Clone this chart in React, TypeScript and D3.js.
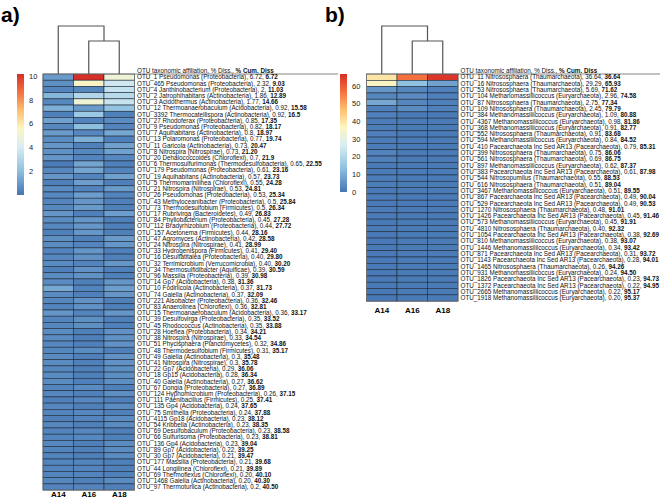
import * as d3 from 'd3';
import React from 'react';

// panel a: bacteria
const aOtu = ['OTU_1', 'OTU_465', 'OTU_4', 'OTU_2', 'OTU_3', 'OTU_12', 'OTU_3392', 'OTU_27', 'OTU_9', 'OTU_7',
  'OTU_13', 'OTU_11', 'OTU_8', 'OTU_20', 'OTU_6', 'OTU_179', 'OTU_19', 'OTU_5', 'OTU_21', 'OTU_26',
  'OTU_43', 'OTU_73', 'OTU_17', 'OTU_84', 'OTU_112', 'OTU_157', 'OTU_47', 'OTU_24', 'OTU_33', 'OTU_16',
  'OTU_32', 'OTU_34', 'OTU_96', 'OTU_14', 'OTU_10', 'OTU_74', 'OTU_221', 'OTU_83', 'OTU_15', 'OTU_39',
  'OTU_45', 'OTU_28', 'OTU_38', 'OTU_51', 'OTU_48', 'OTU_49', 'OTU_41', 'OTU_22', 'OTU_18', 'OTU_40',
  'OTU_67', 'OTU_124', 'OTU_111', 'OTU_135', 'OTU_75', 'OTU_4115', 'OTU_54', 'OTU_69', 'OTU_66', 'OTU_136',
  'OTU_89', 'OTU_30', 'OTU_177', 'OTU_44', 'OTU_69', 'OTU_1468', 'OTU_97'];
const aTaxon = ['Pseudomonas (Proteobacteria)', 'Pseudomonas (Proteobacteria)', 'Janthinobacterium (Proteobacteria)',
  'Jatrophihabitans (Actinobacteria)', 'Acidothermus (Actinobacteria)', 'Thermoanaerobaculum (Acidobacteria)',
  'Thermocatellispora (Actinobacteria)', 'Rhodoferax (Proteobacteria)', 'Pseudomonas (Proteobacteria)',
  'Aquihabitans (Actinobacteria)', 'Polaromonas (Proteobacteria)', 'Garicola (Actinobacteria)',
  'Nitrospira (Nitrospirae)', 'Dehalococcoides (Chloroflexi)', 'Thermosulfurimonas (Thermodesulfobacteria)',
  'Pseudomonas (Proteobacteria)', 'Aquihabitans (Actinobacteria)', 'Thermomarinilinea (Chloroflexi)',
  'Nitrospira (Nitrospirae)', 'Pseudomonas (Proteobacteria)', 'Methyloceanibacter (Proteobacteria)',
  'Thermodesulfobium (Firmicutes)', 'Rubrivirga (Bacteroidetes)', 'Phyllobacterium (Proteobacteria)',
  'Bradyrhizobium (Proteobacteria)', 'Acetonema (Firmicutes)', 'Agromyces (Actinobacteria)',
  'Nitrospira (Nitrospirae)', 'Hydrogenispora (Firmicutes)', 'Desulfatitalea (Proteobacteria)',
  'Terrimicrobium (Verrucomicrobia)', 'Thermosulfidibacter (Aquificae)', 'Massilia (Proteobacteria)',
  'Gp7 (Acidobacteria)', 'Fodinicola (Actinobacteria)', 'Gaiella (Actinobacteria)', 'Alsobacter (Proteobacteria)',
  'Anaerolinea (Chloroflexi)', 'Thermoanaerobaculum (Acidobacteria)', 'Desulfovirga (Proteobacteria)',
  'Rhodococcus (Actinobacteria)', 'Hoeflea (Proteobacteria)', 'Nitrospira (Nitrospirae)',
  'Phycisphaera (Planctomycetes)', 'Thermodesulfobium (Firmicutes)', 'Gaiella (Actinobacteria)',
  'Nitrospira (Nitrospirae)', 'Gp7 (Acidobacteria)', 'Gp15 (Acidobacteria)', 'Gaiella (Actinobacteria)',
  'Dongia (Proteobacteria)', 'Hyphomicrobium (Proteobacteria)', 'Paenibacillus (Firmicutes)',
  'Gp4 (Acidobacteria)', 'Smithella (Proteobacteria)', 'Gp18 (Acidobacteria)', 'Kribbella (Actinobacteria)',
  'Desulfobaculum (Proteobacteria)', 'Sulfurisoma (Proteobacteria)', 'Gp4 (Acidobacteria)',
  'Gp7 (Acidobacteria)', 'Gp7 (Acidobacteria)', 'Massilia (Proteobacteria)', 'Longilinea (Chloroflexi)',
  'Thermoflexus (Chloroflexi)', 'Gaiella (Actinobacteria)', 'Thermotunica (Actinobacteria)'];
const aDiss = ['6.72', '2.32', '2', '1.86', '1.77', '0.92', '0.92', '0.85', '0.82', '0.8',
  '0.77', '0.73', '0.73', '0.7', '0.65', '0.61', '0.57', '0.55', '0.53', '0.53',
  '0.5', '0.5', '0.49', '0.45', '0.44', '0.44', '0.42', '0.41', '0.41', '0.40',
  '0.40', '0.39', '0.39', '0.38', '0.37', '0.37', '0.36', '0.36', '0.36', '0.35',
  '0.35', '0.34', '0.33', '0.32', '0.31', '0.3', '0.3', '0.29', '0.28', '0.27',
  '0.27', '0.26', '0.25', '0.24', '0.24', '0.23', '0.23', '0.23', '0.23', '0.23',
  '0.22', '0.21', '0.21', '0.21', '0.20', '0.20', '0.2'];
const aCum = ['6.72', '9.03', '11.03', '12.89', '14.66', '15.58', '16.5', '17.35', '18.17', '18.97',
  '19.74', '20.47', '21.20', '21.9', '22.55', '23.16', '23.73', '24.28', '24.81', '25.34',
  '25.84', '26.34', '26.83', '27.28', '27.72', '28.16', '28.58', '28.99', '29.40', '29.80',
  '30.20', '30.59', '30.98', '31.36', '31.73', '32.09', '32.46', '32.81', '33.17', '33.52',
  '33.88', '34.21', '34.54', '34.86', '35.17', '35.48', '35.78', '36.06', '36.34', '36.62',
  '36.89', '37.15', '37.41', '37.65', '37.88', '38.12', '38.35', '38.58', '38.81', '39.04',
  '39.25', '39.47', '39.68', '39.89', '40.10', '40.30', '40.50'];
const aA14 = [1.0, 0.7, 0.4, 1.8, 0.5, 1.6, 0.3, 1.2, 0.5, 1.0,
  0.6, 0.9, 0.8, 0.9, 0.2, 0.5, 0.9, 0.3, 0.6, 0.5,
  0.4, 0.5, 0.9, 0.6, 0.5, 0.3, 0.7, 0.6, 0.4, 0.5,
  0.6, 0.3, 0.6, 0.6, 1.4, 0.6, 0.5, 0.4, 0.9, 0.4,
  0.5, 0.6, 0.6, 0.5, 0.5, 0.6, 0.6, 0.5, 0.6, 0.6,
  0.4, 0.5, 0.3, 0.5, 0.4, 0.3, 0.5, 0.4, 0.4, 0.5,
  0.4, 0.4, 0.4, 0.4, 0.4, 0.5, 0.4];
const aA16 = [10.2, 5.5, 0.5, 3.0, 5.0, 1.0, 2.4, 0.4, 2.0, 0.5,
  1.6, 0.3, 0.5, 0.4, 1.3, 1.3, 0.4, 1.1, 0.4, 1.1,
  0.9, 1.0, 0.3, 0.9, 0.9, 0.9, 0.3, 0.4, 0.9, 0.8,
  0.4, 0.8, 0.8, 0.3, 0.4, 0.3, 0.8, 0.8, 0.4, 0.7,
  0.7, 0.3, 0.3, 0.3, 0.6, 0.3, 0.3, 0.3, 0.3, 0.3,
  0.6, 0.3, 0.5, 0.3, 0.5, 0.4, 0.3, 0.5, 0.5, 0.3,
  0.3, 0.3, 0.4, 0.4, 0.4, 0.3, 0.4];
const aA18 = [5.0, 3.8, 3.5, 3.2, 3.6, 2.2, 0.3, 0.6, 0.4, 1.4,
  0.3, 1.2, 1.2, 0.5, 0.3, 0.4, 1.2, 0.3, 1.0, 0.4,
  0.3, 0.3, 1.1, 0.3, 0.3, 0.3, 1.0, 0.9, 0.3, 0.3,
  0.9, 0.3, 0.3, 0.9, 1.1, 0.9, 0.3, 0.3, 0.9, 0.3,
  0.3, 0.8, 0.8, 0.8, 0.3, 0.8, 0.8, 0.7, 0.7, 0.7,
  0.3, 0.7, 0.3, 0.6, 0.3, 0.6, 0.6, 0.3, 0.3, 0.6,
  0.6, 0.6, 0.3, 0.3, 0.3, 0.6, 0.3];

// panel b: archaea
const bOtu = ['OTU_11', 'OTU_16', 'OTU_53', 'OTU_104', 'OTU_87', 'OTU_109', 'OTU_384', 'OTU_4367', 'OTU_368',
  'OTU_552', 'OTU_594', 'OTU_410', 'OTU_399', 'OTU_561', 'OTU_897', 'OTU_383', 'OTU_544', 'OTU_616',
  'OTU_3467', 'OTU_867', 'OTU_529', 'OTU_1270', 'OTU_1426', 'OTU_573', 'OTU_4810', 'OTU_1054', 'OTU_810',
  'OTU_1446', 'OTU_871', 'OTU_1143', 'OTU_1465', 'OTU_931', 'OTU_1826', 'OTU_1372', 'OTU_2665', 'OTU_1918'];
const NS = 'Nitrososphaera (Thaumarchaeota)';
const MM = 'Methanomassiliicoccus (Euryarchaeota)';
const PA = 'Pacearchaeota Inc Sed AR13 (Pacearchaeota)';
const bTaxon = [NS, NS, NS, MM, NS, NS, MM, MM, MM, NS, MM, PA, NS, NS, MM, PA,
  'Nitrosopumilus (Thaumarchaeota)', NS, MM, PA, PA, NS, PA, MM, NS, PA, MM, MM, PA, PA, NS, MM, PA, PA, MM, MM];
const bDiss = ['36.64', '29.29', '5.69', '2.96', '2.75', '2.45', '1.09', '0.98', '0.91', '0.91', '0.84', '0.79',
  '0.75', '0.69', '0.62', '0.61', '0.55', '0.51', '0.51', '0.49', '0.49', '0.48', '0.45', '0.45', '0.40',
  '0.38', '0.38', '0.34', '0.31', '0.28', '0.26', '0.24', '0.23', '0.22', '0.22', '0.20'];
const bCum = ['36.64', '65.93', '71.62', '74.58', '77.34', '79.79', '80.88', '81.86', '82.77', '83.68', '84.52',
  '85.31', '86.06', '86.75', '87.37', '87.98', '88.53', '89.04', '89.55', '90.04', '90.53', '91.01', '91.46',
  '91.91', '92.32', '92.69', '93.07', '93.42', '93.72', '94.01', '94.26', '94.50', '94.73', '94.95', '95.17', '95.37'];
const bA14 = [40, 36, 6, 3, 9, 2, 2, 1.5, 1.5, 2, 1.2, 1.5, 2.5, 2, 1, 1.2, 1.5, 1.5, 0.8, 1.2, 0.8, 1.2, 1, 0.8,
  1, 0.8, 0.8, 0.8, 0.8, 0.8, 0.8, 0.8, 0.8, 0.8, 0.6, 0.6];
const bA16 = [57, 14, 3, 4, 3, 4, 1, 1, 1, 1, 1, 1, 1, 1, 1, 1, 1, 1, 1, 1, 1, 1, 1, 1, 1, 1, 1, 1, 1, 1, 1, 1, 1,
  1, 1, 1];
const bA18 = [66, 8, 2, 2, 2, 2, 1, 1, 1, 1, 1, 1, 1, 1, 1, 1, 1, 1, 1, 1, 1, 1, 1, 1, 1, 1, 1, 1, 1, 1, 1, 1, 1,
  1, 1, 1];

const samples = ['A14', 'A16', 'A18'];
const aTicks = [2, 4, 6, 8, 10];
const bTicks = [0, 10, 20, 30, 40, 50, 60];

const stopPos = [0, 0.2, 0.4, 0.55, 0.7, 0.85, 1];
const stopCol = ['#4575b4', '#8ec0e0', '#d9eef3', '#fdf5c0', '#fdbf6f', '#f4703f', '#d73027'];

const FONT = 'Liberation Sans, Arial, sans-serif';

type PanelProps = {
  id: string;
  letter: string;
  letterX: number;
  x0: number;
  barX: number;
  rowH: number;
  max: number;
  ticks: number[];
  barBottom: number;
  otu: string[];
  taxon: string[];
  diss: string[];
  cum: string[];
  cols: number[][];
  lineEnd: number;
  sampleY: number;
};

const Panel = (p: PanelProps) => {
  const top = 74;
  const n = p.otu.length;
  const x = d3.scaleBand().domain(samples).range([p.x0, p.x0 + 91.5]);
  const y = d3.scaleBand().domain(d3.range(n).map(String)).range([top, top + n * p.rowH]);
  const color = d3.scaleLinear<string>().domain(stopPos.map((s) => s * p.max)).range(stopCol);
  const yBar = d3.scaleLinear().domain([0, p.max]).range([p.barBottom, top]);
  const cx = (s: string) => (x(s) as number) + x.bandwidth() / 2;
  const joinX = (cx('A16') + cx('A18')) / 2;
  const labelX = p.x0 + 94;
  const bottom = top + n * p.rowH;
  const gradStops = d3.range(0, 1.001, 0.05);

  return (
    <g>
      <defs>
        <linearGradient id={p.id} x1="0" y1="1" x2="0" y2="0">
          {gradStops.map((t) => (
            <stop key={t} offset={t} stopColor={color(t * p.max)} />
          ))}
        </linearGradient>
      </defs>
      <text x={p.letterX} y={22} fontSize={21} fontWeight="bold" fontFamily={FONT}>{p.letter}</text>

      {/* colour key */}
      <rect x={p.barX} y={top} width={7} height={p.barBottom - top} fill={`url(#${p.id})`} />
      {p.ticks.map((t) => (
        <text key={t} x={p.barX + 12} y={yBar(t) + 2.5} fontSize={7.5} fontFamily={FONT} fill="#222">{t}</text>
      ))}

      {/* dendrogram */}
      <g stroke="#555" strokeWidth={1.2} fill="none">
        <path d={`M${cx('A16')},${top}V${top - 33}H${cx('A18')}V${top}`} />
        <path d={`M${cx('A14')},${top}V${top - 48}H${joinX}V${top - 33}`} />
      </g>

      {/* cells */}
      {p.cols.map((vals, j) =>
        vals.map((v, i) => (
          <rect key={`${j}-${i}`} x={x(samples[j])} y={y(String(i))} width={x.bandwidth()} height={y.bandwidth()}
            fill={color(v)} stroke="#1e2b3a" strokeWidth={0.6} />
        ))
      )}
      <rect x={p.x0} y={top} width={91.5} height={bottom - top} fill="none" stroke="#777" strokeWidth={0.8} />

      {samples.map((s) => (
        <text key={s} x={cx(s)} y={p.sampleY} textAnchor="middle" fontSize={8} fontWeight="bold" fontFamily={FONT}>{s}</text>
      ))}

      {/* labels */}
      <line x1={p.x0 + 91.5} x2={p.lineEnd} y1={top} y2={top} stroke="#333" strokeWidth={0.6} />
      <text x={labelX} y={top - 1.5} fontSize={6.3} fontFamily={FONT} fill="#111">
        OTU taxonomic affiliation, % Diss., <tspan fontWeight="bold">% Cum. Diss</tspan>
      </text>
      {p.otu.map((o, i) => (
        <text key={i} x={labelX} y={(y(String(i)) as number) + p.rowH / 2 + 2.2} fontSize={6.3} fontFamily={FONT} fill="#111">
          {`${o} ${p.taxon[i]}, ${p.diss[i]}, `}<tspan fontWeight="bold">{p.cum[i]}</tspan>
        </text>
      ))}
    </g>
  );
};

export default function App() {
  return (
    <div style={{ position: 'absolute', left: 0, top: 0 }}>
      <svg width={660} height={499} style={{ display: 'block', background: '#fff' }}>
        <Panel id="ga" letter="a)" letterX={1} x0={43} barX={17} rowH={6.21} max={10.2} ticks={aTicks} barBottom={195}
          otu={aOtu} taxon={aTaxon} diss={aDiss} cum={aCum} cols={[aA14, aA16, aA18]} lineEnd={338} sampleY={497} />
        <Panel id="gb" letter="b)" letterX={325} x0={366.5} barX={340} rowH={6.31} max={67} ticks={bTicks} barBottom={192}
          otu={bOtu} taxon={bTaxon} diss={bDiss} cum={bCum} cols={[bA14, bA16, bA18]} lineEnd={660} sampleY={313} />
      </svg>
    </div>
  );
}
